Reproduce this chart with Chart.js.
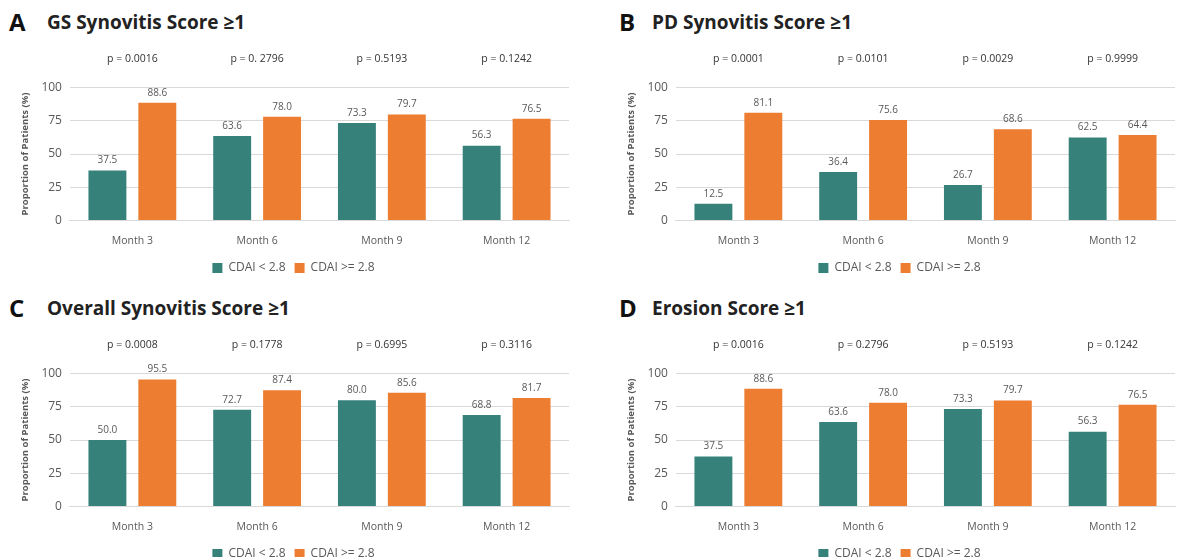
<!DOCTYPE html>
<html>
<head>
<meta charset="utf-8">
<script src="https://cdn.jsdelivr.net/npm/chart.js@4"></script>
<style>
  body { margin: 0; background: #fff; width: 1178px; height: 557px; position: relative; overflow: hidden; font-family: "Open Sans", sans-serif; }
  .panel { position: absolute; width: 590px; height: 253px; }
  .letter { position: absolute; font-weight: bold; font-size: 24px; color: #111; }
  .title { position: absolute; font-weight: bold; font-size: 19px; color: #222; }
</style>
</head>
<body>
<div class="letter" style="left:9px;top:5px">A</div>
<div class="title" style="left:47px;top:9px">GS Synovitis Score ≥1</div>
<div class="letter" style="left:619px;top:5px">B</div>
<div class="title" style="left:652px;top:9px">PD Synovitis Score ≥1</div>
<div class="letter" style="left:9px;top:291px">C</div>
<div class="title" style="left:47px;top:295px">Overall Synovitis Score ≥1</div>
<div class="letter" style="left:619px;top:291px">D</div>
<div class="title" style="left:652px;top:295px">Erosion Score ≥1</div>

<div class="panel" style="left:0px;top:31px"><canvas id="chartA"></canvas></div>
<div class="panel" style="left:606px;top:31px"><canvas id="chartB"></canvas></div>
<div class="panel" style="left:0px;top:317px"><canvas id="chartC"></canvas></div>
<div class="panel" style="left:606px;top:317px"><canvas id="chartD"></canvas></div>

<script>
const months = ['Month 3', 'Month 6', 'Month 9', 'Month 12'];
const seriesNames = ['CDAI < 2.8', 'CDAI >= 2.8'];
const yTicks = [0, 25, 50, 75, 100];

// GS synovitis
const gsLow = [37.5, 63.6, 73.3, 56.3];
const gsHigh = [88.6, 78.0, 79.7, 76.5];
const gsP = ['p = 0.0016', 'p = 0. 2796', 'p = 0.5193', 'p = 0.1242'];

// PD synovitis
const pdLow = [12.5, 36.4, 26.7, 62.5];
const pdHigh = [81.1, 75.6, 68.6, 64.4];
const pdP = ['p = 0.0001', 'p = 0.0101', 'p = 0.0029', 'p = 0.9999'];

// overall synovitis
const overallLow = [50.0, 72.7, 80.0, 68.8];
const overallHigh = [95.5, 87.4, 85.6, 81.7];
const overallP = ['p = 0.0008', 'p = 0.1778', 'p = 0.6995', 'p = 0.3116'];

// erosion
const erosionLow = [37.5, 63.6, 73.3, 56.3];
const erosionHigh = [88.6, 78.0, 79.7, 76.5];
const erosionP = ['p = 0.0016', 'p = 0.2796', 'p = 0.5193', 'p = 0.1242'];

const teal = '#36827a';
const orange = '#ed7d31';
const grey = '#595959';

Chart.defaults.font.family = '"Open Sans", sans-serif';
Chart.defaults.animation = false;

// draws the value above each bar
const barLabels = {
  id: 'barLabels',
  afterDatasetsDraw(chart) {
    const ctx = chart.ctx;
    ctx.save();
    ctx.font = '10px "Open Sans", sans-serif';
    ctx.fillStyle = grey;
    ctx.textAlign = 'center';
    ctx.textBaseline = 'bottom';
    chart.data.datasets.forEach((ds, i) => {
      chart.getDatasetMeta(i).data.forEach((bar, j) => {
        ctx.fillText(ds.data[j].toFixed(1), bar.x, bar.y - 5);
      });
    });
    ctx.restore();
  }
};

function makeChart(id, low, high, pvals) {
  const ctx = document.getElementById(id).getContext('2d');
  new Chart(ctx, {
    type: 'bar',
    plugins: [barLabels],
    data: {
      labels: months,
      datasets: [
        { label: seriesNames[0], data: low, backgroundColor: teal, categoryPercentage: 0.8, barPercentage: 0.76 },
        { label: seriesNames[1], data: high, backgroundColor: orange, categoryPercentage: 0.8, barPercentage: 0.76 }
      ]
    },
    options: {
      responsive: true,
      maintainAspectRatio: false,
      layout: { padding: { left: 18, right: 21, top: 0, bottom: 0 } },
      scales: {
        x: {
          grid: { display: false },
          border: { color: '#d9d9d9' },
          ticks: { color: grey, font: { size: 10.5 }, padding: 6 }
        },
        x2: {
          type: 'category',
          position: 'top',
          labels: pvals,
          grid: { display: false, drawTicks: false },
          border: { display: false },
          ticks: { color: '#333', font: { size: 10.5 }, padding: 22 }
        },
        y: {
          min: 0,
          max: 100,
          afterBuildTicks: axis => { axis.ticks = yTicks.map(v => ({ value: v })); },
          grid: { color: '#d9d9d9', drawTicks: false },
          border: { display: false },
          ticks: { color: grey, font: { size: 12 }, padding: 8 },
          title: { display: true, text: 'Proportion of Patients (%)', color: grey, font: { size: 9.5, weight: 'bold' }, padding: 2 }
        }
      },
      plugins: {
        legend: {
          position: 'bottom',
          labels: { boxWidth: 10, boxHeight: 10, color: grey, font: { size: 12 }, padding: 9 }
        },
        tooltip: { enabled: false }
      }
    }
  });
}

makeChart('chartA', gsLow, gsHigh, gsP);
makeChart('chartB', pdLow, pdHigh, pdP);
makeChart('chartC', overallLow, overallHigh, overallP);
makeChart('chartD', erosionLow, erosionHigh, erosionP);
</script>
</body>
</html>
